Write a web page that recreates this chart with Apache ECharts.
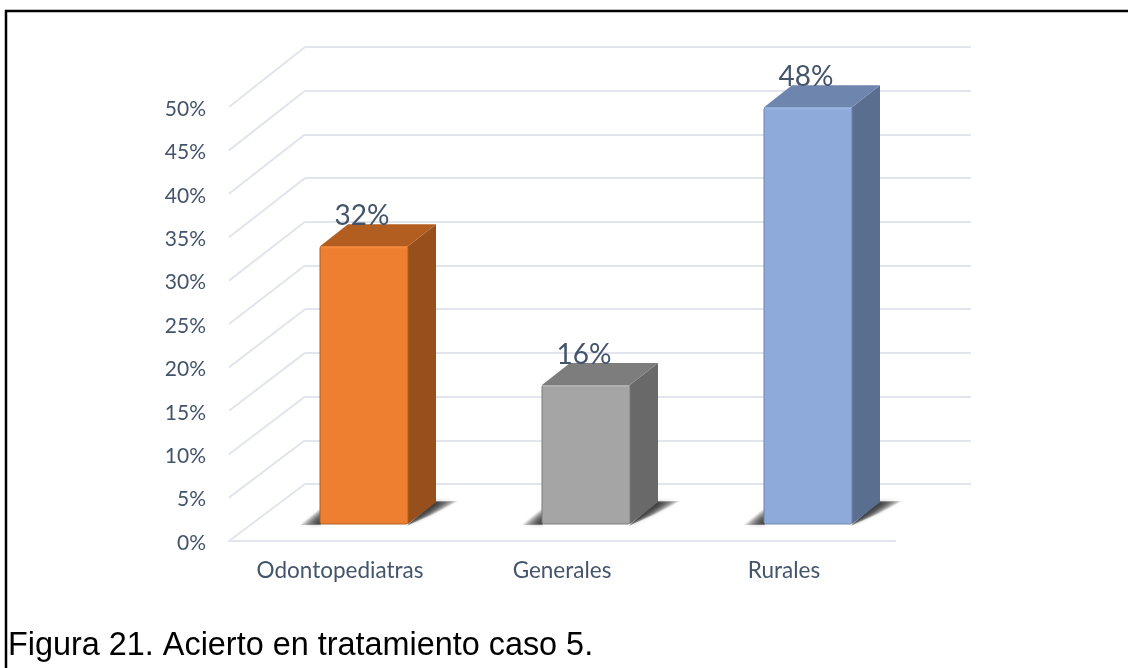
<!DOCTYPE html>
<html>
<head>
<meta charset="utf-8">
<style>html,body{margin:0;padding:0;background:#fff}#c{width:1128px;height:668px}</style>
<script src="https://cdn.jsdelivr.net/npm/echarts@6/dist/echarts.min.js"></script>
</head>
<body>
<div id="c"></div>
<script>
var categories = ['Odontopediatras', 'Generales', 'Rurales'];
var aciertoValues = [32, 16, 48];
var tickValues = [0, 5, 10, 15, 20, 25, 30, 35, 40, 45, 50];
var captionText = 'Figura 21. Acierto en tratamiento caso 5.';

var palettes = [
  {front: '#ef7f30', top: '#b25e20', side: '#97501b', rim: '#f58a3c'},
  {front: '#a5a5a5', top: '#7d7d7d', side: '#696969', rim: '#b0b0b0'},
  {front: '#8eaadb', top: '#6e85ad', side: '#5a6e8f', rim: '#9bb6e3'}
];
var DEPTH_X = 28, DEPTH_Y = 22, BAR_W = 88, FRONT_DX = 24, FLOOR_DY = 17;
var WALL_DX = 76, WALL_DY = 57, WALL_DY_EXTRA = 3, AXIS_MAX = 50;
var textColor = '#44546a', gridColor = '#e2e5ec';
var fontFam = 'Lato, "Open Sans", sans-serif';

function softShadow(x0, x1, yB) {
  var out = [], n = 10, a = 0.12;
  var blur = {shadowBlur: 5, shadowColor: 'rgba(25,25,25,0.3)'};
  function st() {
    return {fill: 'rgba(25,25,25,' + a + ')', shadowBlur: blur.shadowBlur, shadowColor: blur.shadowColor};
  }
  for (var k = 1; k <= n; k++) {
    var f = k / n;
    out.push({type: 'polygon', shape: {points: [[x0 + 1, yB + 1 * f], [x0 - 20 * f, yB + 1 * f], [x0 + 1, yB - 4 - 12 * f]]}, style: st()});
    out.push({type: 'polygon', shape: {points: [
      [x1 - 1, yB + 1 + 1 * f],
      [x1 + 10 + 16 * f, yB - 7 - 3 * f],
      [x1 + DEPTH_X + 22 * f, yB - DEPTH_Y + 1 - 2 * f],
      [x1 + DEPTH_X - 1, yB - DEPTH_Y - 1 * f]
    ]}, style: st()});
  }
  return out;
}

function renderBar(params, api) {
  var i = api.value(0), v = api.value(1);
  var p = api.coord([i, v]), base = api.coord([i, 0]);
  var pal = palettes[i];
  var x0 = Math.round(p[0] + FRONT_DX - BAR_W / 2), x1 = x0 + BAR_W;
  var yT = p[1] - FLOOR_DY, yB = base[1] - FLOOR_DY;
  function poly(pts, fill) {
    return {type: 'polygon', shape: {points: pts}, style: {fill: fill}};
  }
  return {type: 'group', children: softShadow(x0, x1, yB).concat([
    poly([[x1, yT], [x1 + DEPTH_X, yT - DEPTH_Y], [x1 + DEPTH_X, yB - DEPTH_Y], [x1, yB]], pal.side),
    poly([[x0, yT], [x0 + DEPTH_X, yT - DEPTH_Y], [x1 + DEPTH_X, yT - DEPTH_Y], [x1, yT]], pal.top),
    {type: 'rect', shape: {x: x0, y: yT, width: BAR_W, height: yB - yT, r: 2},
      style: {fill: pal.front, stroke: pal.top, lineWidth: 1}},
    {type: 'line', shape: {x1: x0 + 1, y1: yT + 1, x2: x1 - 1, y2: yT + 1}, style: {stroke: pal.rim, lineWidth: 2}},
    {type: 'text', style: {x: x0 + BAR_W / 2 - 2, y: yT - 30, text: v + '%', fill: textColor, font: '400 28px ' + fontFam, align: 'center', verticalAlign: 'middle'}}
  ])};
}

function renderWall(params, api) {
  var v = api.value(1);
  var p = api.coord([0, v]);
  var left = params.coordSys.x;
  return {type: 'line', shape: {x1: left, y1: p[1], x2: left + WALL_DX, y2: p[1] - WALL_DY - WALL_DY_EXTRA * v / AXIS_MAX},
    style: {stroke: gridColor, lineWidth: 2}};
}

var chart = echarts.init(document.getElementById('c'));
chart.setOption({
  animation: false,
  backgroundColor: '#fff',
  title: {text: captionText, left: 8, top: 630, padding: 0, textStyle: {fontFamily: '"Liberation Sans", Arial, sans-serif', fontSize: 32.4, fontWeight: 400, color: '#000'}},
  graphic: [{type: 'polyline', silent: true, z: 100, shape: {points: [[6, 668], [6, 11], [1128, 11]]}, style: {fill: 'none', stroke: '#000', lineWidth: 2.5}}],
  grid: [
    {left: 229, top: 107, width: 666, height: 434},
    {left: 305, top: 47, width: 666, height: 437},
    {left: 229, top: 109, width: 666, height: 434}
  ],
  xAxis: [
    {type: 'category', gridIndex: 0, data: categories, axisTick: {show: false},
      axisLine: {lineStyle: {color: gridColor, width: 2}},
      axisLabel: {color: textColor, fontFamily: fontFam, fontSize: 22.5, margin: 18}},
    {type: 'category', gridIndex: 1, data: categories, show: false},
    {type: 'category', gridIndex: 2, data: categories, show: false}
  ],
  yAxis: [
    {type: 'value', gridIndex: 0, min: 0, max: AXIS_MAX, interval: 5, show: false, splitLine: {show: false}},
    {type: 'value', gridIndex: 1, min: 0, max: AXIS_MAX, interval: 5, axisLine: {show: false}, axisTick: {show: false}, axisLabel: {show: false},
      splitLine: {show: true, lineStyle: {color: gridColor, width: 2}}},
    {type: 'value', gridIndex: 2, min: 0, max: AXIS_MAX, interval: 5, splitLine: {show: false}, axisLine: {show: false}, axisTick: {show: false},
      axisLabel: {color: textColor, fontFamily: fontFam, fontSize: 21, margin: 23, formatter: '{value}%'}}
  ],
  series: [
    {type: 'custom', xAxisIndex: 0, yAxisIndex: 0, z: 1, silent: true, renderItem: renderWall,
      data: tickValues.map(function (t) { return [0, t]; }), encode: {x: 0, y: 1}},
    {type: 'custom', xAxisIndex: 0, yAxisIndex: 0, z: 3, silent: true, renderItem: renderBar,
      data: aciertoValues.map(function (v, i) { return [i, v]; }), encode: {x: 0, y: 1}}
  ]
});
</script>
</body>
</html>
